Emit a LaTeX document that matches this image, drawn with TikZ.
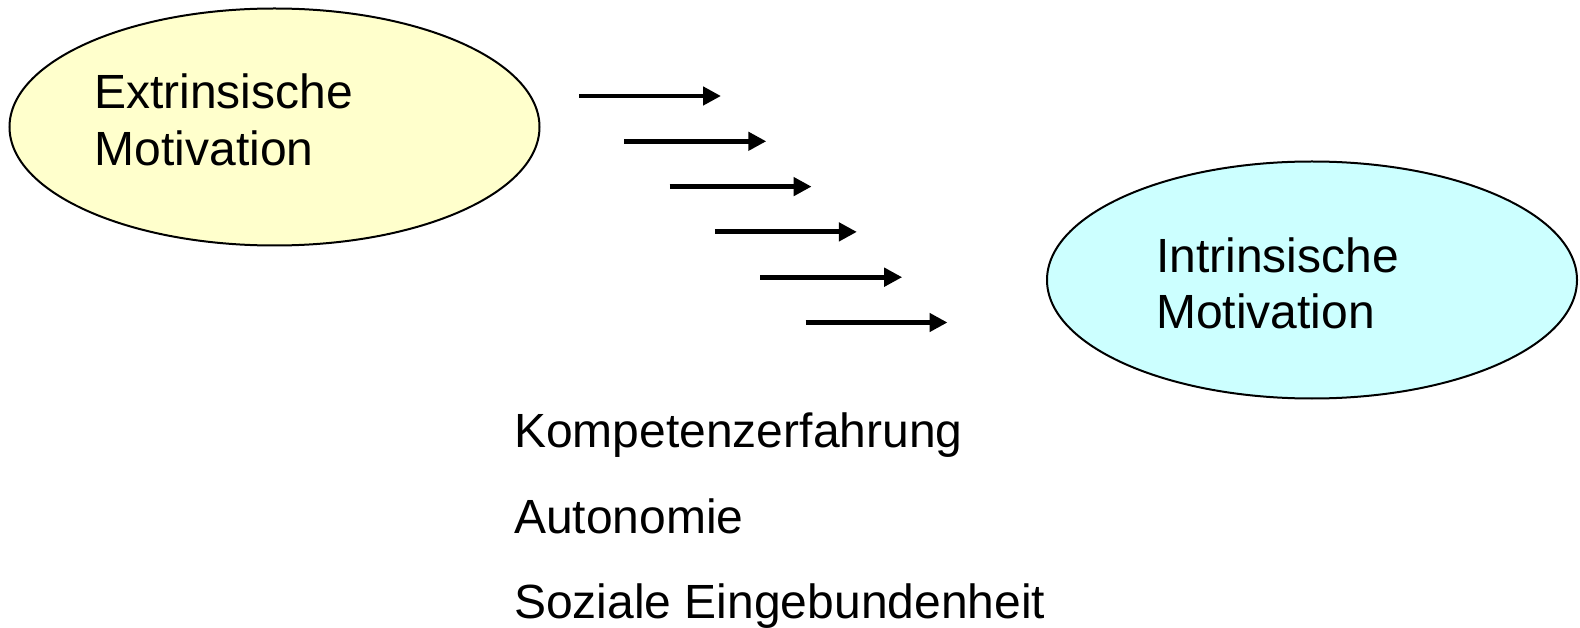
\documentclass[tikz,border=0pt]{standalone}
\usepackage{fontspec}
\setmainfont{Liberation Sans}
\usetikzlibrary{shapes.geometric,arrows.meta}
\definecolor{lightyellow}{HTML}{FFFFCC}
\definecolor{lightcyan}{HTML}{CCFFFF}
\tikzset{
  bubble/.style={ellipse, draw=black, line width=2pt, minimum width=530pt, minimum height=237pt, inner sep=0pt},
  label/.style={anchor=base west, inner sep=0pt, font=\fontsize{48}{57}\selectfont},
  flow/.style={line width=4.8pt, -{Triangle[length=18pt,width=18pt]}}
}
\begin{document}
\begin{tikzpicture}[x=1pt,y=-1pt]
\useasboundingbox (0,0) rectangle (1580,628);
\node[bubble, fill=lightyellow] (ext) at (274.5,127) {};
\node[bubble, fill=lightcyan] (int) at (1312,280) {};
\node[label] (ext1) at (94,109) {Extrinsische};
\node[label] (ext2) at (94.5,165.5) {Motivation};
\node[label] (int1) at (1156,272.5) {Intrinsische};
\node[label] (int2) at (1156,328.5) {Motivation};
\foreach \i in {0,...,5}{
  \coordinate (s\i) at ({579+45.3*\i},{96+45.3*\i});
  \coordinate (e\i) at ({721+45.3*\i},{96+45.3*\i});
  \draw[flow] (s\i) -- (e\i);
}
\node[label] (k1) at (514,447.5) {Kompetenzerfahrung};
\node[label] (k2) at (514,533.5) {Autonomie};
\node[label] (k3) at (514,618) {Soziale Eingebundenheit};
\end{tikzpicture}
\end{document}
